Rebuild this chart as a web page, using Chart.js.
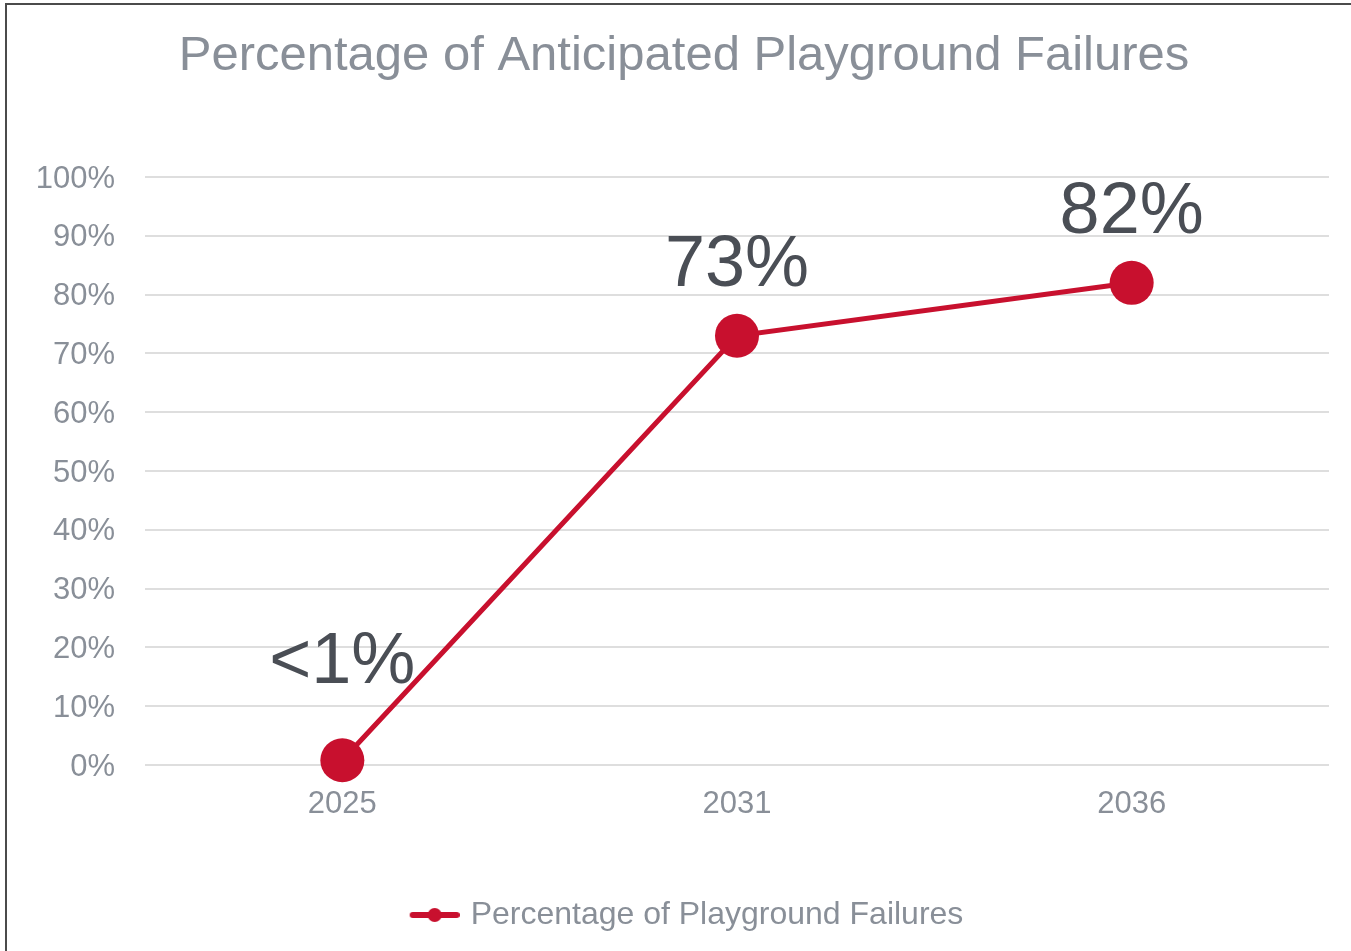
<!DOCTYPE html>
<html lang="en">
<head>
  <meta charset="UTF-8">
  <title>Percentage of Anticipated Playground Failures</title>
  <script src="https://cdn.jsdelivr.net/npm/chart.js"></script>
  <style>
    html, body { margin: 0; padding: 0; background: #fff; overflow: hidden; }
    #wrap { position: relative; width: 1351px; height: 951px; }
    #frame { position: absolute; left: 5px; top: 3px; width: 3000px; height: 3000px;
             border-left: 2px solid #4b4b4b; border-top: 2px solid #4b4b4b; pointer-events: none; }
    canvas { display: block; }
  </style>
</head>
<body>
  <div id="wrap">
    <canvas id="failChart" width="1351" height="951"></canvas>
    <div id="frame"></div>
  </div>

  <script>
    // data
    const years = ['2025', '2031', '2036'];
    const failurePct = [0.8, 73, 82];
    const pointLabels = ['<1%', '73%', '82%'];
    const yTicks = [0, 10, 20, 30, 40, 50, 60, 70, 80, 90, 100];

    const red = '#c8102e';
    const grey = '#898f98';
    const font = "'Liberation Sans', Arial, sans-serif";

    // legend marker: short line with a dot
    const marker = document.createElement('canvas');
    marker.width = 60;
    marker.height = 16;
    const mctx = marker.getContext('2d');
    mctx.strokeStyle = red;
    mctx.lineWidth = 6;
    mctx.lineCap = 'round';
    mctx.beginPath();
    mctx.moveTo(13, 8);
    mctx.lineTo(57, 8);
    mctx.stroke();
    mctx.fillStyle = red;
    mctx.beginPath();
    mctx.arc(35, 8, 7, 0, Math.PI * 2);
    mctx.fill();

    // big value labels above the points
    const valueLabels = {
      id: 'valueLabels',
      afterDatasetsDraw(chart, args, opts) {
        const ctx = chart.ctx;
        const pts = chart.getDatasetMeta(0).data;
        ctx.save();
        ctx.font = '72px ' + font;
        ctx.fillStyle = '#4a4e55';
        ctx.textAlign = 'center';
        ctx.textBaseline = 'alphabetic';
        pts.forEach((p, i) => {
          ctx.fillText(pointLabels[i], p.x, p.y - opts.offsets[i]);
        });
        ctx.restore();
      }
    };

    new Chart(document.getElementById('failChart'), {
      type: 'line',
      data: {
        labels: years,
        datasets: [{
          label: 'Percentage of Playground Failures',
          data: failurePct,
          borderColor: red,
          backgroundColor: red,
          borderWidth: 5,
          pointRadius: 22,
          pointHoverRadius: 22,
          pointBorderWidth: 0,
          pointBackgroundColor: red,
          tension: 0,
          clip: false
        }]
      },
      options: {
        responsive: false,
        animation: false,
        devicePixelRatio: 1,
        layout: { padding: { left: 38, right: 21, top: 0, bottom: 10 } },
        scales: {
          x: {
            offset: true,
            grid: { display: false, drawTicks: false },
            border: { display: false },
            ticks: { color: grey, font: { family: font, size: 31 }, padding: 21 },
            afterFit(scale) { scale.height = 58; }
          },
          y: {
            min: 0,
            max: 100,
            afterBuildTicks(scale) { scale.ticks = yTicks.map(v => ({ value: v })); },
            grid: { color: '#dedede', lineWidth: 2, drawTicks: false },
            border: { display: false },
            ticks: {
              color: grey,
              font: { family: font, size: 31 },
              padding: 30,
              labelOffset: 2,
              callback: v => v + '%'
            },
            afterFit(scale) { scale.width = 107; }
          }
        },
        plugins: {
          title: {
            display: true,
            text: 'Percentage of Anticipated Playground Failures',
            color: grey,
            font: { family: font, size: 49, weight: 'normal' },
            padding: { top: 27, bottom: 91.2 }
          },
          legend: {
            position: 'bottom',
            labels: {
              usePointStyle: true,
              pointStyleWidth: 50,
              padding: 76,
              color: grey,
              font: { family: font, size: 32 },
              generateLabels: chart => [{
                text: chart.data.datasets[0].label,
                pointStyle: marker,
                fontColor: grey,
                fillStyle: red,
                strokeStyle: red,
                lineWidth: 0,
                hidden: false,
                datasetIndex: 0
              }]
            }
          },
          tooltip: { enabled: false },
          valueLabels: { offsets: [77, 50, 50] }
        }
      },
      plugins: [valueLabels]
    });
  </script>
</body>
</html>
